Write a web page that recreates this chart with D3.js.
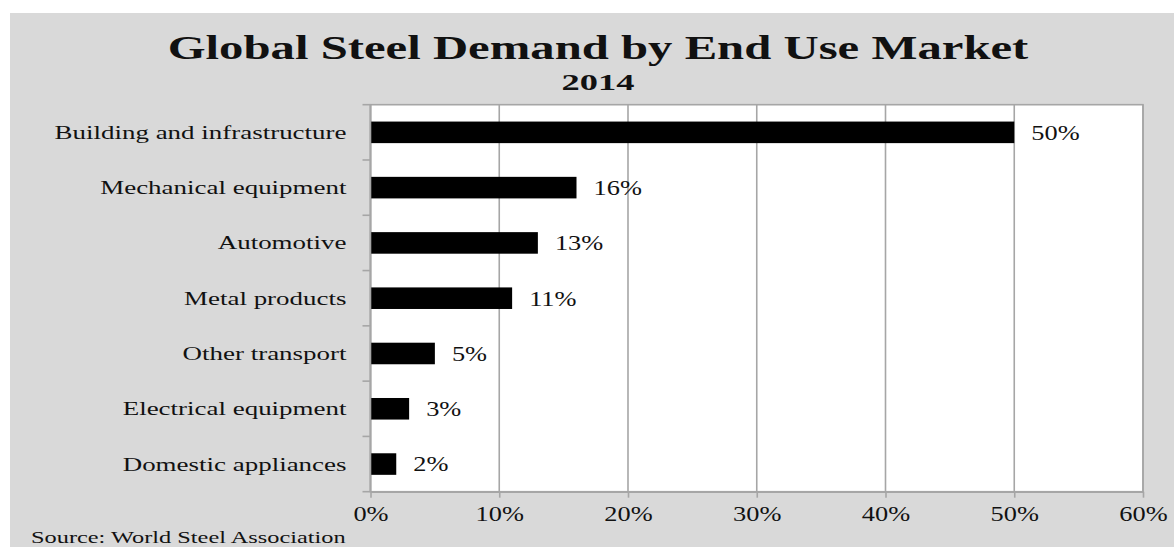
<!DOCTYPE html>
<html>
<head>
<meta charset="utf-8">
<script src="https://cdn.jsdelivr.net/npm/d3@7"></script>
<style>
  body { margin: 0; background: #fff; }
  svg text { font-family: "Liberation Serif", "Times New Roman", serif; fill: #111; }
</style>
</head>
<body>
<div id="chart"></div>
<script>
const categories = [
    "Building and infrastructure",
    "Mechanical equipment",
    "Automotive",
    "Metal products",
    "Other transport",
    "Electrical equipment",
    "Domestic appliances"
];
const shares = [50, 16, 13, 11, 5, 3, 2];
const xTicks = [0, 10, 20, 30, 40, 50, 60];
const titleText = "Global Steel Demand by End Use Market";
const subtitleText = "2014";
const sourceText = "Source: World Steel Association";

const width = 1174;
const height = 547;
const margin = { top: 104.7, right: 31, bottom: 55.3, left: 370.5 };
const gridColor = "#a6a6a6";

const svg = d3.select("#chart")
    .append("svg")
    .attr("width", width)
    .attr("height", height);

// grey panel behind everything
svg.append("rect")
    .attr("x", 10)
    .attr("y", 13)
    .attr("width", width - 10)
    .attr("height", height - 13)
    .attr("fill", "#d9d9d9");

const x = d3.scaleLinear()
    .domain([0, 60])
    .range([margin.left, width - margin.right]);

const y = d3.scaleBand()
    .domain(categories)
    .range([margin.top, height - margin.bottom])
    .paddingInner(0.61)
    .paddingOuter(0.305);

// plot area
svg.append("rect")
    .attr("x", x(0))
    .attr("y", margin.top)
    .attr("width", x(60) - x(0))
    .attr("height", height - margin.bottom - margin.top)
    .attr("fill", "#fff")
    .attr("stroke", gridColor)
    .attr("stroke-width", 1.6);

// vertical gridlines
svg.append("g")
    .selectAll("line")
    .data(xTicks)
    .join("line")
        .attr("x1", d => x(d))
        .attr("x2", d => x(d))
        .attr("y1", margin.top)
        .attr("y2", height - margin.bottom)
        .attr("stroke", gridColor)
        .attr("stroke-width", 1.6);

// bars
svg.append("g")
    .attr("fill", "#000")
    .selectAll("rect")
    .data(shares)
    .join("rect")
        .attr("x", x(0))
        .attr("y", (d, i) => y(categories[i]))
        .attr("width", d => x(d) - x(0))
        .attr("height", y.bandwidth());

// value labels
svg.append("g")
    .selectAll("text")
    .data(shares)
    .join("text")
        .attr("transform", (d, i) => `translate(${x(d) + 17},${y(categories[i]) + y.bandwidth() / 2 + 7.3}) scale(1.32,1)`)
        .attr("font-size", "20px")
        .text(d => d + "%");

// x axis
const xAxis = svg.append("g")
    .attr("transform", `translate(0,${height - margin.bottom})`)
    .call(d3.axisBottom(x).tickValues(xTicks).tickSize(6).tickSizeOuter(0).tickFormat(d => d + "%"));

xAxis.select(".domain").attr("stroke", gridColor).attr("stroke-width", 1.6);
xAxis.selectAll(".tick line").attr("stroke", gridColor).attr("stroke-width", 1.6);
xAxis.selectAll(".tick text")
    .attr("y", 29)
    .attr("dy", 0)
    .attr("font-size", "20px")
    .attr("font-family", null)
    .attr("fill", null)
    .attr("transform", "scale(1.32,1)");

// y axis: line plus ticks on band boundaries
const boundaries = d3.range(categories.length + 1).map(i => margin.top + i * y.step());

svg.append("line")
    .attr("x1", x(0))
    .attr("x2", x(0))
    .attr("y1", margin.top)
    .attr("y2", height - margin.bottom)
    .attr("stroke", gridColor)
    .attr("stroke-width", 1.6);

svg.append("g")
    .selectAll("line")
    .data(boundaries)
    .join("line")
        .attr("x1", x(0) - 8)
        .attr("x2", x(0))
        .attr("y1", d => d)
        .attr("y2", d => d)
        .attr("stroke", gridColor)
        .attr("stroke-width", 1.6);

// category labels
svg.append("g")
    .selectAll("text")
    .data(categories)
    .join("text")
        .attr("transform", d => `translate(${x(0) - 24},${y(d) + y.bandwidth() / 2 + 6.5}) scale(1.45,1)`)
        .attr("text-anchor", "end")
        .attr("font-size", "18.6px")
        .text(d => d);

// titles
svg.append("text")
    .attr("transform", "translate(598,59) scale(1.49,1)")
    .attr("text-anchor", "middle")
    .attr("font-size", "32.7px")
    .attr("font-weight", "bold")
    .text(titleText);

svg.append("text")
    .attr("transform", "translate(598,90) scale(1.55,1)")
    .attr("text-anchor", "middle")
    .attr("font-size", "23.5px")
    .attr("font-weight", "bold")
    .text(subtitleText);

svg.append("text")
    .attr("transform", "translate(31,543) scale(1.45,1)")
    .attr("font-size", "16.8px")
    .text(sourceText);
</script>
</body>
</html>
